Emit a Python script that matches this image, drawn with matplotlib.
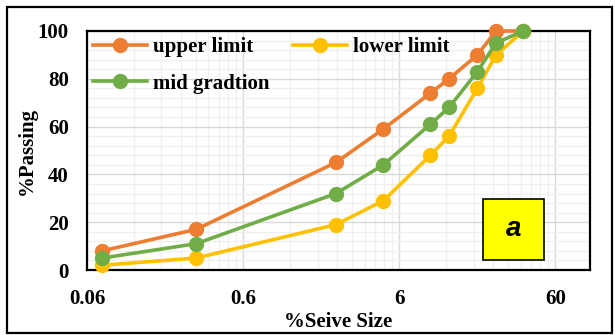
import matplotlib
matplotlib.use("Agg")
import matplotlib.pyplot as plt
from matplotlib.ticker import FixedLocator, NullFormatter
from matplotlib.patches import Rectangle

# sieve sizes (mm) and percent passing
sieve = [0.075, 0.3, 2.36, 4.75, 9.5, 12.5, 19, 25, 37.5]
upper = [8, 17, 45, 59, 74, 80, 90, 100, 100]
lower = [2, 5, 19, 29, 48, 56, 76, 90, 100]
mid = [5, 11, 32, 44, 61, 68, 83, 95, 100]

major_ticks = [0.06, 0.6, 6, 60]
tick_labels = ["0.06", "0.6", "6", "60"]

plt.rcParams['font.family'] = ['Liberation Serif', 'DejaVu Serif']

fig = plt.figure(figsize=(6.15, 3.35), dpi=100)
ax = fig.add_axes([87 / 615, 65 / 335, 503 / 615, 239 / 335])

lw = 2.6
ms = 10
h_up, = ax.plot(sieve, upper, color='#ED7D31', lw=lw, marker='o', ms=ms,
                label='upper limit', zorder=3, clip_on=False)
h_lo, = ax.plot(sieve, lower, color='#FFC000', lw=lw, marker='o', ms=ms,
                label='lower limit', zorder=3, clip_on=False)
h_mid, = ax.plot(sieve, mid, color='#70AD47', lw=lw, marker='o', ms=ms,
                 label='mid gradtion', zorder=4, clip_on=False)

ax.set_xscale('log')
ax.set_xlim(0.06, 100)
ax.set_ylim(0, 100)

ax.xaxis.set_major_locator(FixedLocator(major_ticks))
ax.set_xticklabels(tick_labels)
minor = [0.06 * k * 10 ** d for d in range(4) for k in range(2, 10) if 0.06 * k * 10 ** d < 100]
ax.xaxis.set_minor_locator(FixedLocator(minor))
ax.xaxis.set_minor_formatter(NullFormatter())
ax.set_yticks(range(0, 101, 20))
ax.yaxis.set_minor_locator(FixedLocator(range(0, 101, 4)))

ax.grid(which='major', color='#d9d9d9', lw=1.0, zorder=0)
ax.grid(which='minor', color='#f0f0f0', lw=1.0, zorder=0)
ax.set_axisbelow(True)

ax.tick_params(which='both', length=0)
ax.tick_params(axis='x', pad=14)
ax.tick_params(axis='y', pad=13)
for lab in ax.get_xticklabels() + ax.get_yticklabels():
    lab.set_fontsize(15)
    lab.set_fontweight('bold')

for s in ax.spines.values():
    s.set_linewidth(1.6)
    s.set_color('black')

ax.set_xlabel('%Seive Size', fontsize=15, fontweight='bold', labelpad=2)
ax.set_ylabel('%Passing', fontsize=15, fontweight='bold', labelpad=1)

ax.legend([h_up, h_mid, h_lo], ['upper limit', 'mid gradtion', 'lower limit'],
          loc='upper left', ncol=2, frameon=False,
          prop={'weight': 'bold', 'size': 15},
          handlelength=2.6, handletextpad=0.3, columnspacing=1.1,
          labelspacing=0.8, borderaxespad=0.0, bbox_to_anchor=(-0.005, 1.01))

# label box
ax.add_patch(Rectangle((0.787, 0.042), 0.122, 0.255, transform=ax.transAxes,
                       facecolor='#FFFF00', edgecolor='black', lw=1.2, zorder=5))
ax.text(0.848, 0.17, 'a', transform=ax.transAxes, ha='center', va='center',
        fontsize=20, fontweight='bold', fontstyle='italic',
        family=['Liberation Sans', 'DejaVu Sans'], zorder=6)

# outer chart border
fig.add_artist(Rectangle((7 / 615, 2 / 335), 605 / 615, 326 / 335,
                         transform=fig.transFigure, fill=False,
                         edgecolor='black', lw=1.6))

fig.savefig('out.png', dpi=100)
